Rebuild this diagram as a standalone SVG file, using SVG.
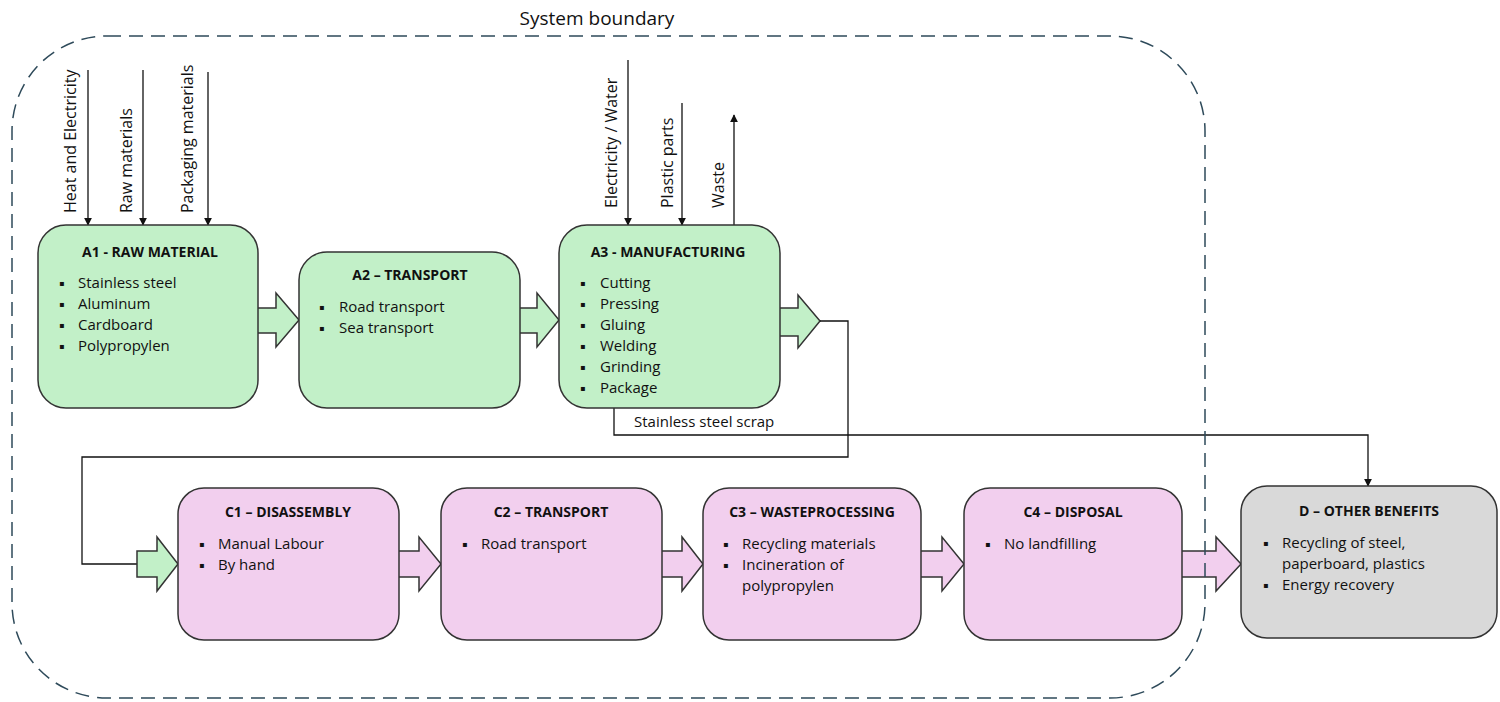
<svg xmlns="http://www.w3.org/2000/svg" width="1500" height="702" viewBox="0 0 1500 702">
<defs>
<style>
text{font-family:"Open Sans","Noto Sans","DejaVu Sans",sans-serif;fill:#111;}
.t{font-size:14px;font-weight:bold;text-anchor:middle;}
.i{font-size:15px;}
.b{font-size:8px;}
.v{font-size:16px;}
.g{fill:#c2f0c8;stroke:#333;stroke-width:1.5;}
.p{fill:#f2cfee;stroke:#333;stroke-width:1.5;}
.d{fill:#d9d9d9;stroke:#333;stroke-width:1.5;}
.ln{fill:none;stroke:#111;stroke-width:1.3;}
</style>
<marker id="ah" viewBox="0 0 10 10" refX="9" refY="5" markerWidth="8" markerHeight="8" markerUnits="userSpaceOnUse" orient="auto">
<path d="M0,0 L10,5 L0,10 z" fill="#111"/>
</marker>
</defs>
<rect width="1500" height="702" fill="#fff"/>

<g id="connectors">
<line class="ln" x1="88" y1="70" x2="88" y2="225" marker-end="url(#ah)"/>
<line class="ln" x1="143" y1="70" x2="143" y2="225" marker-end="url(#ah)"/>
<line class="ln" x1="208" y1="72" x2="208" y2="225" marker-end="url(#ah)"/>
<text class="v" transform="translate(76,213) rotate(-90)">Heat and Electricity</text>
<text class="v" transform="translate(132,213) rotate(-90)">Raw materials</text>
<text class="v" transform="translate(193,213) rotate(-90)">Packaging materials</text>
<line class="ln" x1="628" y1="60" x2="628" y2="225" marker-end="url(#ah)"/>
<line class="ln" x1="682" y1="103" x2="682" y2="225" marker-end="url(#ah)"/>
<line class="ln" x1="734" y1="225" x2="734" y2="115" marker-end="url(#ah)"/>
<text class="v" transform="translate(617,208) rotate(-90)">Electricity / Water</text>
<text class="v" transform="translate(673,208) rotate(-90)">Plastic parts</text>
<text class="v" transform="translate(724,208) rotate(-90)">Waste</text>
<polygon class="g" points="256,308 276,308 276,293 299,320 276,347 276,333 256,333"/>
<polygon class="g" points="518,308 537,308 537,293 559,320 537,347 537,333 518,333"/>
<polygon class="g" points="778,308 798,308 798,295 820,321 798,348 798,336 778,336"/>
<polyline class="ln" points="820,321 848,321 848,457 82,457 82,564 137,564"/>
<polygon class="g" points="137,551 157,551 157,537 178,564 157,591 157,577 137,577"/>
<polygon class="p" points="397,551 419,551 419,537 441,564 419,591 419,577 397,577"/>
<polygon class="p" points="660,551 682,551 682,537 703,564 682,591 682,577 660,577"/>
<polygon class="p" points="919,551 942,551 942,537 964,564 942,591 942,577 919,577"/>
<polygon class="p" points="1180,551 1216,551 1216,537 1241,564 1216,591 1216,577 1180,577"/>
<polyline class="ln" points="614,408 614,435 1368,435 1368,486" marker-end="url(#ah)"/>
<text class="i" x="634" y="427">Stainless steel scrap</text>
</g>

<g id="A1">
<rect class="g" x="38" y="225" width="220" height="183" rx="28"/>
<text class="t" x="150" y="257">A1 - RAW MATERIAL</text>
<text class="b" x="59" y="286">▪</text><text class="i" x="78" y="288">Stainless steel</text>
<text class="b" x="59" y="307">▪</text><text class="i" x="78" y="309">Aluminum</text>
<text class="b" x="59" y="328">▪</text><text class="i" x="78" y="330">Cardboard</text>
<text class="b" x="59" y="349">▪</text><text class="i" x="78" y="351">Polypropylen</text>
</g>

<g id="A2">
<rect class="g" x="299" y="252" width="221" height="156" rx="28"/>
<text class="t" x="410" y="280">A2 – TRANSPORT</text>
<text class="b" x="319" y="310">▪</text><text class="i" x="339" y="312">Road transport</text>
<text class="b" x="319" y="331">▪</text><text class="i" x="339" y="333">Sea transport</text>
</g>

<g id="A3">
<rect class="g" x="559" y="225" width="221" height="183" rx="28"/>
<text class="t" x="668" y="257">A3 - MANUFACTURING</text>
<text class="b" x="580" y="286">▪</text><text class="i" x="600" y="288">Cutting</text>
<text class="b" x="580" y="307">▪</text><text class="i" x="600" y="309">Pressing</text>
<text class="b" x="580" y="328">▪</text><text class="i" x="600" y="330">Gluing</text>
<text class="b" x="580" y="349">▪</text><text class="i" x="600" y="351">Welding</text>
<text class="b" x="580" y="370">▪</text><text class="i" x="600" y="372">Grinding</text>
<text class="b" x="580" y="391">▪</text><text class="i" x="600" y="393">Package</text>
</g>

<g id="C1">
<rect class="p" x="178" y="488" width="221" height="152" rx="26"/>
<text class="t" x="288" y="517">C1 – DISASSEMBLY</text>
<text class="b" x="199" y="547">▪</text><text class="i" x="218" y="549">Manual Labour</text>
<text class="b" x="199" y="568">▪</text><text class="i" x="218" y="570">By hand</text>
</g>

<g id="C2">
<rect class="p" x="441" y="488" width="221" height="152" rx="26"/>
<text class="t" x="551" y="517">C2 – TRANSPORT</text>
<text class="b" x="462" y="547">▪</text><text class="i" x="481" y="549">Road transport</text>
</g>

<g id="C3">
<rect class="p" x="703" y="488" width="218" height="152" rx="26"/>
<text class="t" x="812" y="517">C3 – WASTEPROCESSING</text>
<text class="b" x="723" y="547">▪</text><text class="i" x="742" y="549">Recycling materials</text>
<text class="b" x="723" y="568">▪</text><text class="i" x="742" y="570">Incineration of</text>
<text class="i" x="742" y="591">polypropylen</text>
</g>

<g id="C4">
<rect class="p" x="964" y="488" width="218" height="152" rx="26"/>
<text class="t" x="1073" y="517">C4 – DISPOSAL</text>
<text class="b" x="985" y="547">▪</text><text class="i" x="1004" y="549">No landfilling</text>
</g>

<g id="D">
<rect class="d" x="1241" y="486" width="256" height="152" rx="26"/>
<text class="t" x="1369" y="516">D – OTHER BENEFITS</text>
<text class="b" x="1263" y="546">▪</text><text class="i" x="1282" y="548">Recycling of steel,</text>
<text class="i" x="1282" y="569">paperboard, plastics</text>
<text class="b" x="1263" y="588">▪</text><text class="i" x="1282" y="590">Energy recovery</text>
</g>

<g id="boundary">
<rect x="12" y="36" width="1193" height="662" rx="95" ry="95" fill="none" stroke="#2e4a5a" stroke-width="1.5" stroke-dasharray="14 8"/>
<text x="597" y="25" font-size="19" text-anchor="middle">System boundary</text>
</g>
</svg>
